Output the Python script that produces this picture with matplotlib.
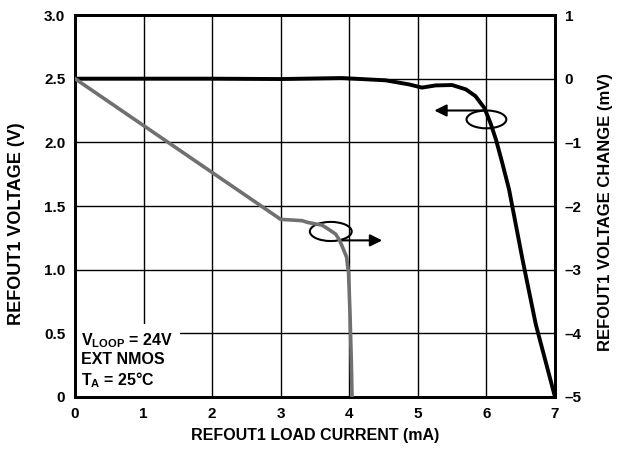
import matplotlib.pyplot as plt
from matplotlib.patches import Ellipse

plt.rcParams["font.family"] = ["Liberation Sans", "DejaVu Sans"]
plt.rcParams["font.weight"] = "bold"
plt.rcParams["mathtext.fontset"] = "custom"
plt.rcParams["mathtext.rm"] = "Liberation Sans:bold"
plt.rcParams["mathtext.bf"] = "Liberation Sans:bold"
plt.rcParams["mathtext.default"] = "bf"

# black curve: REFOUT1 voltage (left axis, V)
volt_i = [0.0, 1.0, 2.0, 3.0, 3.89, 4.53, 4.87, 5.06, 5.26, 5.50, 5.70, 5.84, 5.97,
          6.06, 6.14, 6.23, 6.33, 6.53, 6.72, 7.0]
volt_v = [2.5, 2.5, 2.5, 2.497, 2.505, 2.487, 2.455, 2.43, 2.447, 2.45, 2.416, 2.363, 2.27,
          2.15, 2.02, 1.84, 1.63, 1.07, 0.57, 0.0]

# gray curve: REFOUT1 voltage change (right axis, mV)
chg_i = [0.0, 3.0, 3.31, 3.40, 3.60, 3.69, 3.80, 3.86, 3.96, 3.99, 4.01, 4.03, 4.04]
chg_mv = [0.0, -2.21, -2.23, -2.26, -2.30, -2.36, -2.44, -2.54, -2.80, -3.06, -3.68, -4.46, -5.0]

x_ticks = [0, 1, 2, 3, 4, 5, 6, 7]
left_ticks = [0, 0.5, 1.0, 1.5, 2.0, 2.5, 3.0]
left_labels = ["0", "0.5", "1.0", "1.5", "2.0", "2.5", "3.0"]
right_ticks = [-5, -4, -3, -2, -1, 0, 1]
right_labels = ["\u20135", "\u20134", "\u20133", "\u20132", "\u20131", "0", "1"]

fig = plt.figure(figsize=(6.21, 4.49), dpi=100)
ax = fig.add_axes([75 / 621, 52 / 449, 480 / 621, 382 / 449])
ax2 = ax.twinx()

ax.set_xlim(0, 7)
ax.set_ylim(0, 3.0)
ax2.set_ylim(-5, 1)

ax.set_xticks(x_ticks)
ax.set_xticklabels([str(t) for t in x_ticks])
ax.set_yticks(left_ticks)
ax.set_yticklabels(left_labels)
ax2.set_yticks(right_ticks)
ax2.set_yticklabels(right_labels)
ax.grid(True, color="black", linewidth=1.0)
ax.set_axisbelow(True)

for a in (ax, ax2):
    a.tick_params(length=0, labelsize=11, pad=7)
    for s in a.spines.values():
        s.set_linewidth(2.0)

ax.plot(volt_i, volt_v, color="black", linewidth=2.8, zorder=3)
ax2.plot(chg_i, chg_mv, color="#707070", linewidth=2.6, zorder=3)

# annotation ellipses and arrows
ax.add_patch(Ellipse((6.0, 2.18), 0.58, 0.14, fill=False, edgecolor="black", linewidth=1.5, zorder=4))
ax.annotate("", xy=(5.2, 2.25), xytext=(6.0, 2.25),
            arrowprops=dict(arrowstyle="-|>", color="black", lw=1.5, mutation_scale=18), zorder=4)
ax.add_patch(Ellipse((3.73, 1.30), 0.61, 0.15, fill=False, edgecolor="black", linewidth=1.5, zorder=4))
ax.annotate("", xy=(4.52, 1.23), xytext=(3.83, 1.23),
            arrowprops=dict(arrowstyle="-|>", color="black", lw=1.5, mutation_scale=18), zorder=4)

ax.text(0.09, 0.055, "V$_{LOOP}$ = 24V\nEXT NMOS\nT$_{A}$ = 25\u00b0C",
        fontsize=11.5, fontweight="bold", va="bottom", ha="left", linespacing=1.2,
        bbox=dict(facecolor="white", edgecolor="none", pad=5), zorder=2)

ax.set_xlabel("REFOUT1 LOAD CURRENT (mA)", fontsize=11.5, fontweight="bold", labelpad=5)
ax.set_ylabel("REFOUT1 VOLTAGE (V)", fontsize=13, fontweight="bold")
ax2.set_ylabel("REFOUT1 VOLTAGE CHANGE (mV)", fontsize=12, fontweight="bold")
ax.yaxis.set_label_coords(-0.104, 0.455)
ax2.yaxis.set_label_coords(1.089, 0.484)

fig.savefig("out.png", dpi=100)
